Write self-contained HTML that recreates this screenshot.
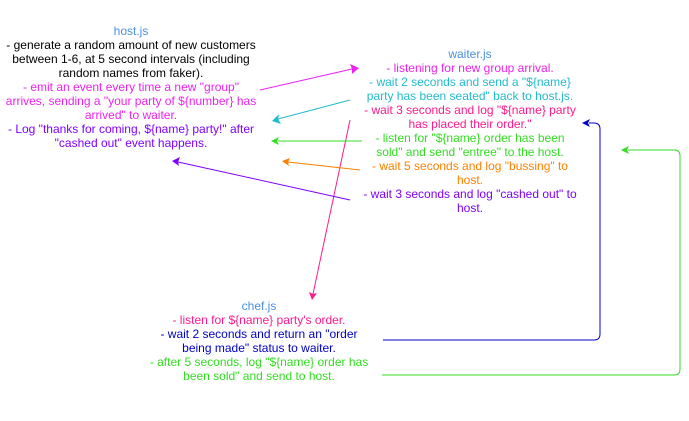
<!DOCTYPE html>
<html><head><meta charset="utf-8"><style>
body{margin:0;width:689px;height:421px;background:#fff;position:relative;overflow:hidden;font-family:"Liberation Sans",Arial,sans-serif;font-size:12px;}
.b{position:absolute;text-align:center;line-height:14px;white-space:nowrap;}
.t{color:#4a90e2}
svg{position:absolute;left:0;top:0}
</style></head><body>
<div class="b" style="left:5px;top:24px;width:252px">
<div class="t">host.js</div>
<div style="color:#000">- generate a random amount of new customers<br>between 1-6, at 5 second intervals (including<br>random names from faker).</div>
<div style="color:#ee22ee">- emit an event every time a new "group"<br>arrives, sending a "your party of ${number} has<br>arrived" to waiter.</div>
<div style="color:#7f00ff">- Log "thanks for coming, ${name} party!" after<br>"cashed out" event happens.</div>
</div>
<div class="b" style="left:360px;top:47px;width:220px">
<div class="t">waiter.js</div>
<div style="color:#ee22ee">- listening for new group arrival.</div>
<div style="color:#22bbcc">- wait 2 seconds and send a "${name}<br>party has been seated" back to host.js.</div>
<div style="color:#ff1a8c">- wait 3 seconds and log "${name} party<br>has placed their order."</div>
<div style="color:#33dd22">- listen for "${name} order has been<br>sold" and send "entree" to the host.</div>
<div style="color:#ff8000">- wait 5 seconds and log "bussing" to<br>host.</div>
<div style="color:#7f00ff">- wait 3 seconds and log "cashed out" to<br>host.</div>
</div>
<div class="b" style="left:149px;top:299px;width:220px">
<div class="t">chef.js</div>
<div style="color:#ff1a8c">- listen for ${name} party's order.</div>
<div style="color:#0000cc">- wait 2 seconds and return an "order<br>being made" status to waiter.</div>
<div style="color:#33dd22">- after 5 seconds, log "${name} order has<br>been sold" and send to host.</div>
</div>
<svg width="689" height="421">
<g fill="none" stroke-width="1">
<line x1="260" y1="90" x2="352" y2="69" stroke="#ee22ee"/>
<line x1="350" y1="100" x2="278" y2="119" stroke="#22bbcc"/>
<line x1="350" y1="120" x2="313" y2="294" stroke="#ff1a8c"/>
<line x1="362" y1="141" x2="278" y2="141" stroke="#33dd22"/>
<line x1="360" y1="170" x2="288" y2="162" stroke="#ff8000"/>
<line x1="350" y1="200" x2="178" y2="162" stroke="#7f00ff"/>
<path d="M383 340 H594 Q600 340 600 334 V129 Q600 123 594 123 H589" stroke="#0000cc"/>
<path d="M382 375 H674 Q680 375 680 369 V156 Q680 150 674 150 H628" stroke="#33dd22"/>
</g>
<polygon points="359,68 350,64 352,69 352,74" fill="#ee22ee"/>
<polygon points="272,121 279,114 278,119 281,124" fill="#22bbcc"/>
<polygon points="312,300 309,292 313,294 317,293" fill="#ff1a8c"/>
<polygon points="271,141 279,137 277,141 279,145" fill="#33dd22"/>
<polygon points="282,161 290,158 288,162 289,166" fill="#ff8000"/>
<polygon points="172,161 180,157 178,162 179,166" fill="#7f00ff"/>
<polygon points="582,123 590,119 588,123 590,127" fill="#0000cc"/>
<polygon points="621,150 629,146 627,150 629,154" fill="#33dd22"/>
</svg>
</body></html>
